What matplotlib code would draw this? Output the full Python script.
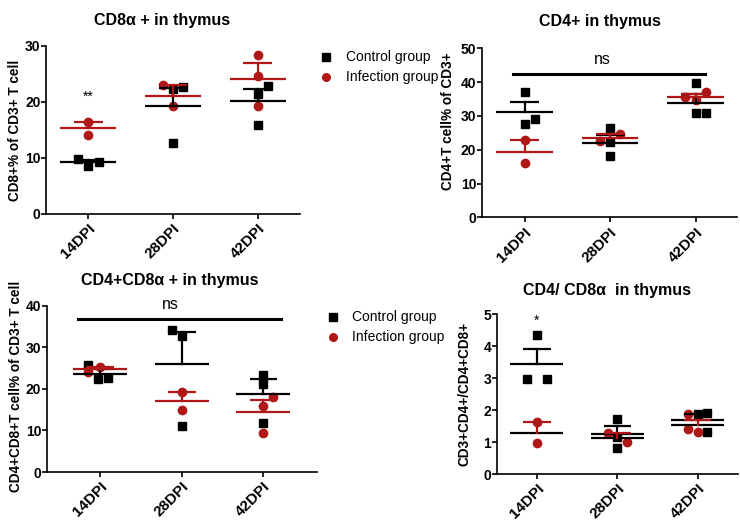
"""Thymus T-cell subsets, control vs infection: scatter with mean and SEM per time point."""

import matplotlib
matplotlib.use("Agg")
import matplotlib.pyplot as plt
from matplotlib.lines import Line2D

plt.rcParams["font.family"] = ["Liberation Sans", "DejaVu Sans"]

DAYS = ["14DPI", "28DPI", "42DPI"]
BLACK = "#000000"
RED = "#b01818"

# --- CD8a+ in thymus -------------------------------------------------------
cd8_ctrl = [[9.8, 8.6, 9.2], [22.3, 22.6, 12.6], [22.9, 21.4, 15.9]]
cd8_ctrl_dx = [[-0.12, 0, 0.12], [0, 0.12, 0], [0.12, 0, 0]]
cd8_ctrl_mean = [9.2, 19.2, 20.2]
cd8_ctrl_sem = [0.4, 3.3, 2.1]
cd8_inf = [[16.4, 14.1], [23.0, 19.2], [28.4, 24.6, 19.2]]
cd8_inf_dx = [[0, 0], [-0.12, 0], [0, 0, 0]]
cd8_inf_mean = [15.3, 21.1, 24.1]
cd8_inf_sem = [1.1, 1.9, 2.8]

# --- CD4+ in thymus --------------------------------------------------------
cd4_ctrl = [[37.2, 27.5, 29.1], [26.3, 22.4, 18.2], [39.6, 30.8, 30.8]]
cd4_ctrl_dx = [[0, 0, 0.12], [0, 0, 0], [0, 0, 0.12]]
cd4_ctrl_mean = [31.2, 22.1, 33.7]
cd4_ctrl_sem = [3.0, 2.3, 2.9]
cd4_inf = [[22.9, 16.0], [22.7, 24.6], [35.7, 34.7, 37.0]]
cd4_inf_dx = [[0, 0], [-0.12, 0.12], [-0.12, 0, 0.12]]
cd4_inf_mean = [19.3, 23.6, 35.7]
cd4_inf_sem = [3.6, 1.0, 0.8]

# --- CD4+CD8a+ in thymus ---------------------------------------------------
dp_ctrl = [[25.7, 22.3, 22.7], [34.1, 32.7, 11.1], [23.3, 21.2, 11.9]]
dp_ctrl_dx = [[-0.14, -0.02, 0.1], [-0.12, 0, 0], [0, 0, 0]]
dp_ctrl_mean = [23.6, 26.0, 18.8]
dp_ctrl_sem = [1.2, 7.6, 3.6]
dp_inf = [[24.1, 25.3], [19.2, 14.9], [18.1, 15.9, 9.3]]
dp_inf_dx = [[-0.14, 0], [0, 0], [0.12, 0, 0]]
dp_inf_mean = [24.7, 17.1, 14.4]
dp_inf_sem = [0.6, 2.1, 2.9]

# --- CD4/CD8a ratio in thymus ----------------------------------------------
ratio_ctrl = [[4.34, 2.96, 2.96], [1.71, 1.17, 0.80], [1.87, 1.92, 1.30]]
ratio_ctrl_dx = [[0, -0.12, 0.12], [0, 0, 0], [0, 0.12, 0.12]]
ratio_ctrl_mean = [3.43, 1.25, 1.70]
ratio_ctrl_sem = [0.47, 0.25, 0.17]
ratio_inf = [[1.62, 0.96], [1.29, 0.99], [1.87, 1.40, 1.30]]
ratio_inf_dx = [[0, 0], [-0.12, 0.12], [-0.12, -0.12, 0]]
ratio_inf_mean = [1.29, 1.12, 1.52]
ratio_inf_sem = [0.33, 0.17, 0.17]


def draw_group(ax, vals, dx, means, sems, color, marker, mean_color=None):
    for i, (v, d) in enumerate(zip(vals, dx)):
        ax.plot([i + o for o in d], v, ls="none", marker=marker, ms=6,
                color=color, mec=color, zorder=3, clip_on=False)
    for i, (m, s) in enumerate(zip(means, sems)):
        ax.plot([i - 0.33, i + 0.33], [m, m], color=mean_color or color,
                lw=1.6, zorder=4, solid_capstyle="butt")
        ax.plot([i, i], [m, m + s], color=color, lw=1.6, zorder=4)
        ax.plot([i - 0.17, i + 0.17], [m + s, m + s], color=color,
                lw=1.6, zorder=4, solid_capstyle="butt")


def style_axes(ax, ymax, ystep, xlim):
    ax.set_xlim(*xlim)
    ax.set_ylim(0, ymax)
    ax.set_yticks(range(0, ymax + 1, ystep))
    ax.set_xticks(range(len(DAYS)))
    ax.set_xticklabels(DAYS, rotation=45, ha="right", rotation_mode="anchor",
                       fontweight="bold", fontsize=11)
    for lab in ax.get_yticklabels():
        lab.set_fontweight("bold")
        lab.set_fontsize(10)
    for side in ("top", "right"):
        ax.spines[side].set_visible(False)
    for side in ("left", "bottom"):
        ax.spines[side].set_linewidth(1.2)
    ax.tick_params(direction="out", length=3.5, width=1.2)
    ax.tick_params(axis="y", pad=0.5)
    ax.tick_params(axis="x", pad=2)


fig = plt.figure(figsize=(7.4, 5.21), dpi=100)

ax1 = fig.add_axes([0.0622, 0.5893, 0.3432, 0.3225])
draw_group(ax1, cd8_ctrl, cd8_ctrl_dx, cd8_ctrl_mean, cd8_ctrl_sem, BLACK, "s")
draw_group(ax1, cd8_inf, cd8_inf_dx, cd8_inf_mean, cd8_inf_sem, RED, "o")
style_axes(ax1, 30, 10, (-0.5, 2.5))
ax1.text(0, 20.9, "**", ha="center", va="center", fontsize=10)

ax2 = fig.add_axes([0.651, 0.5829, 0.3446, 0.3244])
draw_group(ax2, cd4_ctrl, cd4_ctrl_dx, cd4_ctrl_mean, cd4_ctrl_sem, BLACK, "s")
draw_group(ax2, cd4_inf, cd4_inf_dx, cd4_inf_mean, cd4_inf_sem, RED, "o")
style_axes(ax2, 50, 10, (-0.5, 2.48))
ax2.plot([-0.14, 2.11], [42.4, 42.4], color=BLACK, lw=2.2)
ax2.text(0.91, 46.8, "ns", ha="center", va="center", fontsize=11.5)

ax3 = fig.add_axes([0.0631, 0.094, 0.3647, 0.3192])
draw_group(ax3, dp_ctrl, dp_ctrl_dx, dp_ctrl_mean, dp_ctrl_sem, BLACK, "s")
draw_group(ax3, dp_inf, dp_inf_dx, dp_inf_mean, dp_inf_sem, RED, "o")
style_axes(ax3, 40, 10, (-0.65, 2.65))
ax3.plot([-0.27, 2.22], [36.8, 36.8], color=BLACK, lw=2.2)
ax3.text(0.86, 40.3, "ns", ha="center", va="center", fontsize=11.5)

ax4 = fig.add_axes([0.6712, 0.0902, 0.3261, 0.3071])
draw_group(ax4, ratio_ctrl, ratio_ctrl_dx, ratio_ctrl_mean, ratio_ctrl_sem, BLACK, "s")
draw_group(ax4, ratio_inf, ratio_inf_dx, ratio_inf_mean, ratio_inf_sem, RED, "o",
           mean_color=BLACK)
style_axes(ax4, 5, 1, (-0.5, 2.5))
ax4.text(0, 4.79, "*", ha="center", va="center", fontsize=10)

# titles and y labels placed in figure coordinates
titles = [("CD8\u03b1 + in thymus", 0.2185, 0.960),
          ("CD4+ in thymus", 0.811, 0.958),
          ("CD4+CD8\u03b1 + in thymus", 0.2297, 0.461),
          ("CD4/ CD8\u03b1  in thymus", 0.820, 0.443)]
for txt, x, y in titles:
    fig.text(x, y, txt, ha="center", va="center", fontsize=11.5, fontweight="bold")

ylabels = [("CD8+% of CD3+ T cell", 0.0196, 0.7505),
           ("CD4+T cell% of CD3+", 0.606, 0.768),
           ("CD4+CD8+T cell% of CD3+ T cell", 0.0216, 0.2578),
           ("CD3+CD4+/CD4+CD8+", 0.628, 0.2438)]
for txt, x, y in ylabels:
    fig.text(x, y, txt, ha="center", va="center", rotation=90,
             fontsize=9.8, fontweight="bold")

# legends
for lx, ly_top, ly_bot in [(0.4405, 0.890, 0.8528), (0.4496, 0.3921, 0.3537)]:
    fig.add_artist(Line2D([lx], [ly_top], marker="s", ms=5.5, color=BLACK,
                          ls="none", transform=fig.transFigure))
    fig.add_artist(Line2D([lx], [ly_bot], marker="o", ms=5.5, color=RED,
                          ls="none", transform=fig.transFigure))
    fig.text(lx + 0.0265, ly_top, "Control group", va="center", fontsize=10)
    fig.text(lx + 0.0265, ly_bot, "Infection group", va="center", fontsize=10)

fig.savefig("out.png", dpi=100)
